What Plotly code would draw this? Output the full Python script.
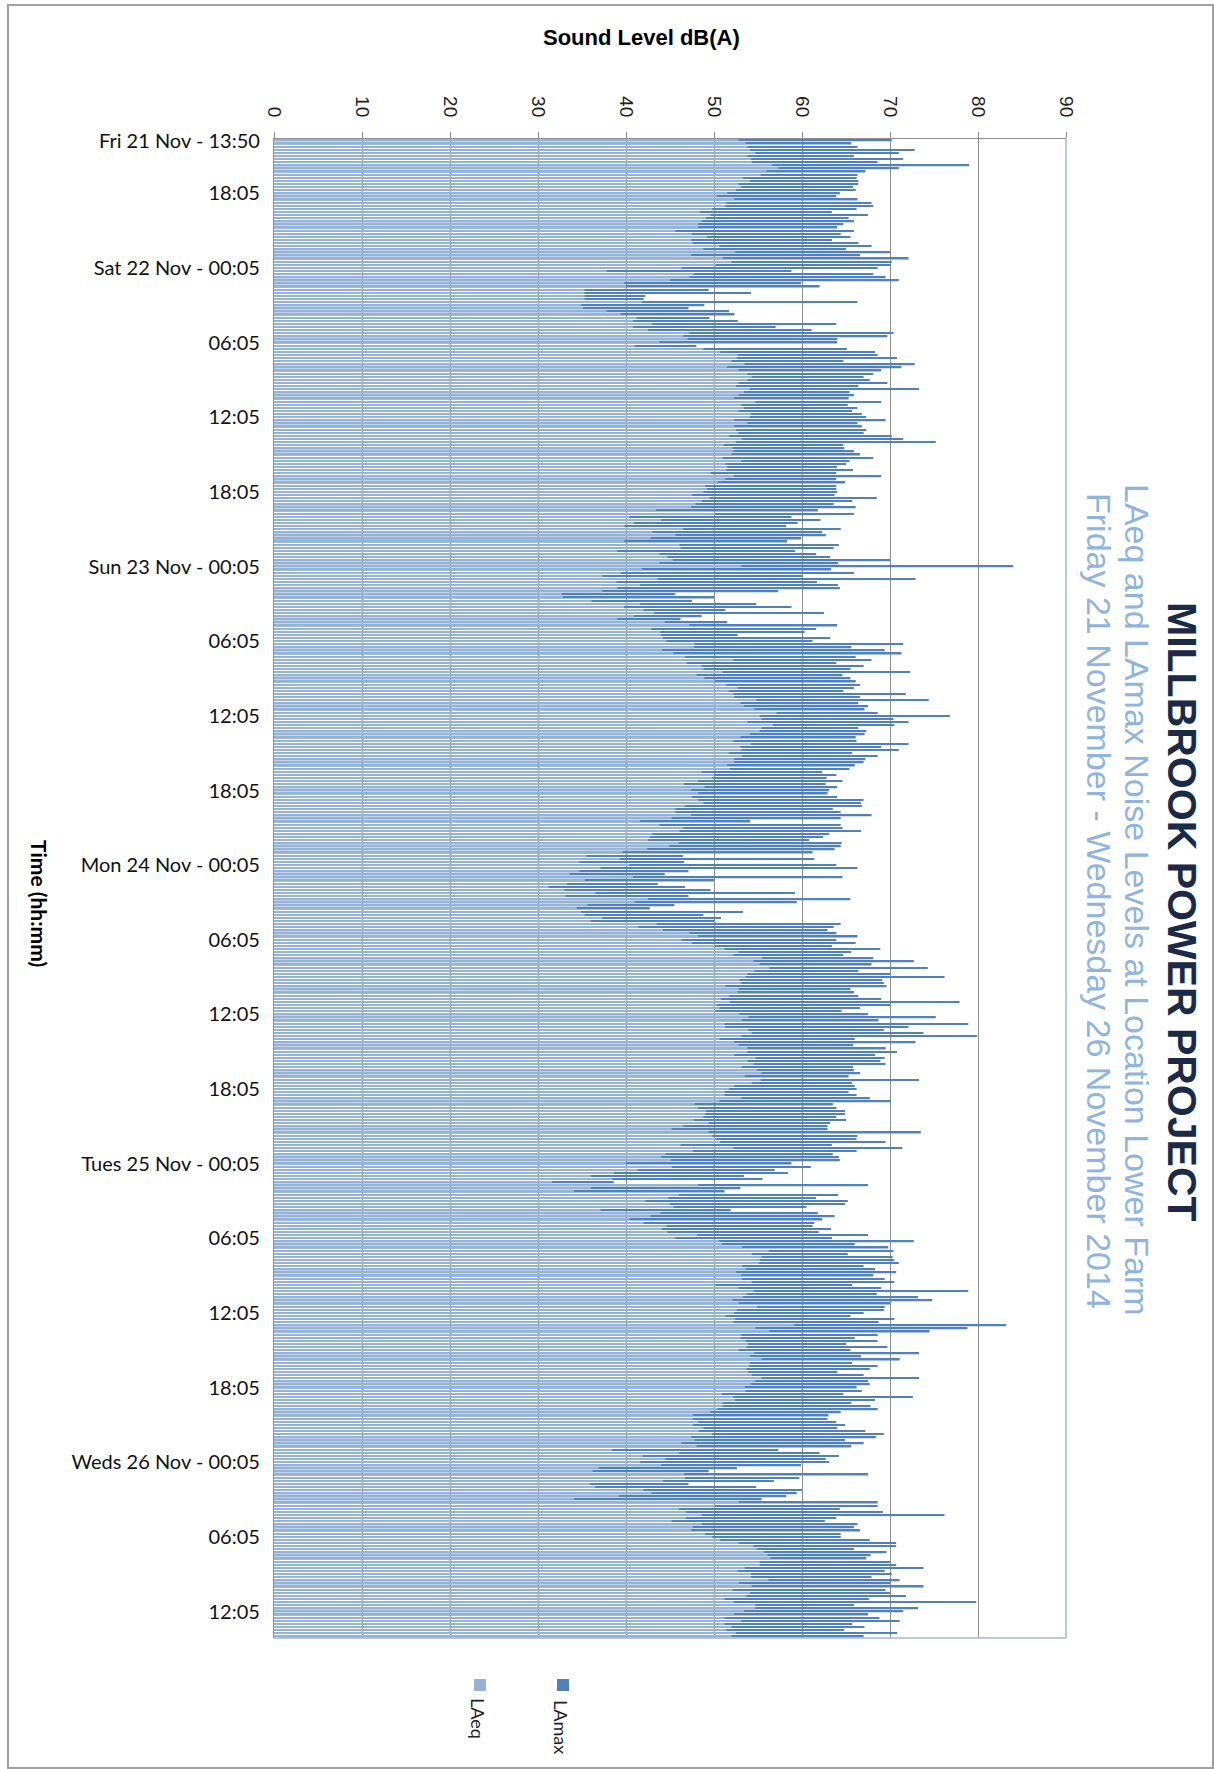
import pandas as pd
import plotly.graph_objects as go

# 15-minute noise monitoring record, Lower Farm, 21-26 November 2014
START = "2014-11-21 13:50"
INTERVAL = "15min"

LAEQ = [
    52.8, 53.6, 53.8, 54.1, 54.7, 53.8, 54.2, 54.3, 56.6, 57.3,
    56.0, 55.3, 53.3, 54.1, 52.8, 53.1, 52.5, 51.5, 50.3, 52.3,
    51.4, 51.3, 49.8, 48.4, 49.6, 49.1, 48.6, 48.2, 48.2, 45.6,
    47.5, 49.2, 47.4, 47.6, 50.6, 48.8, 52.4, 47.4, 51.0, 52.0,
    50.2, 46.3, 37.8, 47.7, 47.2, 45.0, 39.8, 40.0, 35.3, 35.3,
    35.3, 35.3, 41.8, 34.9, 35.1, 37.8, 39.4, 41.2, 40.8, 43.0,
    40.8, 42.5, 47.2, 46.5, 47.0, 43.8, 41.0, 48.8, 50.7, 52.7,
    52.6, 52.0, 53.5, 51.5, 52.8, 53.8, 54.3, 53.8, 52.8, 52.5,
    54.1, 53.4, 52.8, 52.3, 54.7, 53.1, 53.4, 52.8, 54.2, 54.1,
    52.3, 53.8, 52.3, 52.5, 52.8, 51.7, 53.2, 52.5, 51.1, 52.1,
    52.2, 52.0, 51.0, 53.1, 51.3, 51.5, 51.4, 49.6, 52.3, 51.3,
    50.4, 49.0, 49.2, 48.8, 47.5, 49.5, 48.6, 47.9, 47.4, 43.4,
    50.1, 40.4, 44.0, 40.9, 39.8, 46.5, 43.0, 45.6, 42.8, 39.8,
    46.1, 46.2, 39.0, 43.8, 44.7, 45.3, 43.8, 53.1, 41.8, 39.4,
    37.3, 43.6, 38.9, 41.6, 39.0, 37.3, 32.7, 32.8, 36.1, 41.6,
    39.8, 42.0, 43.2, 40.9, 39.0, 44.4, 47.2, 42.9, 43.9, 44.0, 44.2,
    44.6, 47.8, 47.7, 44.1, 45.4, 46.7, 52.2, 46.9, 48.6,
    48.8, 51.0, 48.0, 48.9, 50.1, 51.4, 52.7, 51.7, 52.2, 52.3,
    54.8, 53.0, 53.4, 54.6, 57.1, 55.2, 55.4, 53.8, 56.7, 55.4,
    55.2, 54.1, 53.0, 52.2, 54.2, 53.0, 53.1, 51.7, 53.2, 52.3,
    52.3, 51.5, 51.8, 48.6, 50.0, 49.8, 48.2, 46.6, 48.9, 47.4,
    48.2, 47.5, 48.2, 48.8, 46.7, 45.6, 45.6, 47.4, 45.2, 41.6,
    43.8, 46.5, 46.1, 43.0, 42.7, 42.5, 46.0, 44.9, 42.4, 39.6,
    35.5, 39.3, 34.7, 40.4, 37.1, 34.7, 33.6, 40.8, 35.3, 33.3, 31.2,
    33.0, 36.5, 33.1, 42.5, 41.0, 35.6, 34.4, 34.9, 35.3,
    37.3, 36.0, 43.5, 41.4, 44.2, 47.2, 48.2, 46.3, 47.5, 50.1,
    51.2, 52.8, 52.2, 55.5, 54.5, 55.2, 56.3, 54.6, 53.8, 53.6,
    52.9, 53.1, 51.3, 52.8, 52.7, 51.7, 50.8, 51.8, 50.3, 50.6,
    50.2, 52.9, 53.9, 53.2, 51.2, 51.3, 53.9, 54.3, 53.1, 50.6,
    52.3, 52.8, 53.8, 53.8, 52.3, 54.7, 53.8, 54.5, 53.2, 54.9,
    55.4, 53.5, 55.3, 54.3, 52.3, 51.7, 51.2, 51.2, 53.1, 50.6,
    47.8, 48.2, 49.1, 49.0, 48.8, 47.7, 49.4, 46.5, 45.2, 49.4, 49.8,
    50.2, 50.7, 46.2, 52.2, 47.6, 44.5, 44.0, 45.1, 40.0,
    45.2, 41.3, 38.6, 36.0, 38.4, 31.6, 48.2, 36.0, 34.1, 46.0,
    44.8, 42.2, 45.0, 45.4, 37.1, 43.9, 42.8, 40.4, 42.0, 44.6,
    44.1, 44.7, 48.1, 45.6, 50.6, 50.9, 53.2, 56.2, 54.3, 55.4,
    55.2, 55.1, 53.2, 53.6, 52.5, 53.1, 53.2, 54.3, 50.2, 52.8,
    54.5, 53.7, 53.3, 52.1, 52.8, 54.9, 52.6, 52.3, 51.3, 52.4,
    52.2, 59.1, 54.7, 56.3, 53.1, 53.0, 53.6, 53.9, 53.7, 52.8,
    54.6, 54.1, 55.4, 54.1, 54.0, 53.7, 53.9, 54.3, 55.4, 54.7, 54.2, 53.5,
    53.6, 50.9, 52.2, 52.4, 51.0, 51.0, 50.4, 49.6,
    47.6, 47.6, 48.2, 47.6, 48.8, 48.3, 49.8, 47.4, 47.8, 46.3,
    48.0, 38.4, 46.0, 41.9, 44.5, 41.6, 44.0, 36.9, 36.2, 46.6,
    46.7, 44.2, 35.9, 36.5, 42.0, 42.9, 39.2, 34.1, 52.8, 50.1,
    46.0, 46.8, 48.6, 46.8, 45.2, 48.6, 47.6, 47.4, 49.0, 49.8,
    50.7, 52.8, 54.5, 54.9, 55.7, 56.1, 56.4, 55.2, 55.2, 53.5,
    52.7, 54.2, 54.2, 56.2, 52.8, 54.3, 52.1, 54.1, 53.7, 51.2,
    52.2, 54.7, 54.7, 53.4, 52.3, 51.2, 53.1, 51.2, 52.0, 51.4, 52.5, 52.0,
]

LAMAX = [
    70.2, 65.6, 66.3, 72.8, 71.0, 65.9, 71.5, 68.6, 79.0, 71.0,
    67.2, 66.3, 66.2, 66.4, 66.4, 65.8, 66.1, 64.3, 63.9, 66.3,
    67.9, 68.1, 66.2, 63.4, 67.5, 65.3, 65.9, 64.7, 64.0, 65.9,
    64.4, 65.5, 63.4, 66.4, 67.9, 65.0, 70.0, 66.6, 72.1, 70.2,
    70.1, 68.6, 58.8, 68.1, 69.5, 71.0, 59.9, 62.0, 49.4, 54.2,
    42.2, 42.0, 66.3, 48.9, 47.1, 51.7, 52.3, 49.5, 52.7, 63.9,
    57.0, 61.1, 70.4, 69.7, 64.0, 64.0, 48.0, 65.1, 68.3, 68.6,
    70.8, 64.7, 72.8, 71.3, 69.0, 68.1, 67.0, 67.7, 69.7, 66.4,
    73.3, 65.4, 65.9, 65.3, 69.0, 65.2, 66.3, 65.7, 66.8, 67.3,
    69.5, 66.3, 66.8, 67.3, 67.0, 70.2, 71.5, 75.2, 64.7, 64.8,
    65.9, 66.6, 68.1, 65.4, 65.0, 64.0, 65.8, 63.9, 69.0, 63.9,
    64.9, 63.9, 63.9, 64.0, 63.7, 68.5, 65.7, 63.6, 66.1, 61.8,
    65.9, 58.8, 62.1, 59.5, 58.2, 64.4, 62.3, 62.7, 59.9, 58.3,
    64.2, 63.6, 59.2, 61.6, 63.2, 70.0, 64.1, 84.0, 63.3, 65.9,
    60.0, 72.9, 61.7, 64.1, 64.3, 57.3, 45.6, 50.0, 47.5, 54.8,
    58.8, 51.3, 62.5, 48.6, 46.2, 51.5, 64.0, 61.6, 60.3, 52.7, 63.2,
    61.2, 71.5, 65.6, 69.4, 71.3, 66.1, 67.9, 63.9, 67.0,
    65.5, 72.3, 64.6, 65.5, 66.1, 66.6, 65.9, 64.7, 71.8, 66.6,
    74.4, 66.4, 67.5, 67.1, 68.6, 76.8, 70.4, 72.1, 70.5, 66.4,
    67.3, 67.1, 66.1, 66.2, 72.1, 69.0, 71.0, 65.7, 68.6, 67.2,
    67.0, 66.0, 65.4, 62.3, 63.9, 62.8, 64.6, 62.7, 64.0, 63.1,
    62.9, 64.0, 67.0, 66.7, 66.8, 63.5, 64.4, 67.9, 64.4, 54.1,
    64.4, 64.6, 66.7, 63.1, 62.4, 60.8, 64.5, 64.4, 63.7, 61.2,
    46.5, 61.4, 46.6, 63.9, 66.3, 47.1, 44.4, 64.6, 50.0, 43.6, 46.7,
    49.6, 59.2, 47.1, 65.5, 59.4, 45.5, 42.7, 53.3, 48.8,
    50.8, 50.1, 64.4, 63.6, 62.9, 63.9, 66.3, 63.9, 66.1, 63.4,
    68.9, 65.6, 64.7, 68.1, 72.7, 67.9, 74.3, 66.4, 70.0, 76.2,
    69.1, 69.3, 69.6, 65.5, 65.9, 66.4, 69.0, 77.9, 70.0, 66.6,
    64.5, 67.5, 75.2, 68.7, 78.9, 72.1, 69.3, 73.8, 79.9, 66.0,
    72.9, 65.8, 69.5, 70.8, 68.3, 69.4, 68.9, 69.5, 65.8, 65.9,
    66.6, 65.3, 73.3, 65.7, 66.0, 66.2, 65.3, 66.2, 67.7, 70.1,
    63.5, 63.9, 64.9, 64.9, 63.9, 65.0, 63.2, 62.9, 62.9, 73.5, 66.3,
    66.2, 69.5, 63.4, 71.4, 66.2, 63.5, 64.2, 64.3, 58.8,
    61.0, 56.9, 58.4, 53.4, 55.5, 38.6, 67.5, 53.0, 51.2, 64.1,
    61.6, 65.2, 64.9, 60.5, 51.9, 61.8, 63.7, 62.3, 61.4, 61.2,
    63.3, 61.9, 67.5, 63.4, 72.7, 66.0, 69.8, 70.4, 65.2, 70.3,
    70.5, 71.0, 67.0, 68.3, 70.7, 68.1, 69.4, 70.5, 65.7, 69.0,
    78.9, 68.5, 73.2, 74.8, 70.0, 69.4, 69.3, 67.0, 65.5, 70.5,
    68.7, 83.2, 78.8, 74.5, 68.6, 66.0, 68.6, 65.0, 69.7, 65.5,
    73.3, 66.7, 71.1, 65.7, 68.6, 67.7, 64.0, 67.0, 73.3, 67.5, 67.7, 66.2,
    66.8, 64.7, 72.6, 68.3, 65.6, 67.8, 68.6, 64.4,
    63.0, 62.9, 63.9, 64.9, 64.0, 67.2, 69.3, 68.4, 64.9, 67.0,
    65.6, 57.3, 62.0, 64.2, 62.7, 63.1, 59.9, 52.6, 49.4, 67.5,
    59.7, 56.8, 47.1, 54.8, 60.0, 59.4, 58.2, 55.4, 68.6, 68.6,
    64.3, 69.2, 76.2, 63.9, 62.6, 66.3, 65.9, 66.6, 64.4, 64.4,
    67.7, 70.7, 70.7, 65.9, 69.6, 67.8, 67.3, 70.0, 70.7, 73.8,
    69.4, 70.2, 67.9, 71.1, 70.0, 73.8, 69.5, 70.0, 71.8, 67.6,
    79.8, 65.9, 73.2, 71.5, 67.5, 68.8, 71.1, 65.7, 67.1, 64.8, 70.8, 67.0,
]

TICK_TIMES = [
    "2014-11-21 13:50", "2014-11-21 18:05",
    "2014-11-22 00:05", "2014-11-22 06:05", "2014-11-22 12:05", "2014-11-22 18:05",
    "2014-11-23 00:05", "2014-11-23 06:05", "2014-11-23 12:05", "2014-11-23 18:05",
    "2014-11-24 00:05", "2014-11-24 06:05", "2014-11-24 12:05", "2014-11-24 18:05",
    "2014-11-25 00:05", "2014-11-25 06:05", "2014-11-25 12:05", "2014-11-25 18:05",
    "2014-11-26 00:05", "2014-11-26 06:05", "2014-11-26 12:05",
]
TICK_TEXT = [
    "Fri 21 Nov - 13:50", "18:05",
    "Sat 22 Nov - 00:05", "06:05", "12:05", "18:05",
    "Sun 23 Nov - 00:05", "06:05", "12:05", "18:05",
    "Mon 24 Nov - 00:05", "06:05", "12:05", "18:05",
    "Tues 25 Nov - 00:05", "06:05", "12:05", "18:05",
    "Weds 26 Nov - 00:05", "06:05", "12:05",
]
LEVEL_TICKS = [0, 10, 20, 30, 40, 50, 60, 70, 80, 90]

SERIES_NAMES = ["LAeq", "LAmax"]
COLOR_LAEQ = "#95B3D7"
COLOR_LAMAX = "#4F81BD"

times = pd.date_range(START, periods=len(LAEQ), freq=INTERVAL)
half_step = pd.Timedelta(INTERVAL) / 2

W, H = 1214, 1769
PLOT_L, PLOT_R, PLOT_T, PLOT_B = 274, 1066, 139, 1638


def px(x, y):
    """Pixel position on the page -> paper coordinates."""
    return (x - PLOT_L) / (PLOT_R - PLOT_L), (PLOT_B - y) / (PLOT_B - PLOT_T)


fig = go.Figure()
# LAmax drawn first so the LAeq bar sits in front of it
fig.add_trace(go.Bar(x=LAMAX, y=times, orientation="h", name=SERIES_NAMES[1],
                     marker=dict(color=COLOR_LAMAX, line=dict(width=0)),
                     showlegend=False))
fig.add_trace(go.Bar(x=LAEQ, y=times, orientation="h", name=SERIES_NAMES[0],
                     marker=dict(color=COLOR_LAEQ, line=dict(width=0)),
                     showlegend=False))

GRID = "#8F8F8F"
SANS = "Liberation Sans, Arial, sans-serif"
HUMAN = "Lato, Carlito, Calibri, sans-serif"

fig.update_layout(
    width=W, height=H,
    margin=dict(l=PLOT_L, r=W - PLOT_R, t=PLOT_T, b=H - PLOT_B, pad=0),
    paper_bgcolor="white", plot_bgcolor="white",
    barmode="overlay", bargap=0.52,
    xaxis=dict(
        side="top", range=[0, 90], tickvals=LEVEL_TICKS, tickangle=90,
        showgrid=True, gridcolor=GRID, gridwidth=1.3, zeroline=False,
        showline=True, linecolor=GRID, linewidth=1.3,
        ticks="outside", ticklen=6, tickcolor=GRID, tickwidth=1.3,
        ticklabelstandoff=8,
        tickfont=dict(family=SANS, size=19, color="#222222"),
    ),
    yaxis=dict(
        type="date",
        range=[times[-1] + half_step, times[0] - half_step],
        tickvals=TICK_TIMES, ticktext=TICK_TEXT,
        showgrid=False, zeroline=False,
        showline=True, linecolor=GRID, linewidth=1.3,
        ticks="", ticklabelstandoff=9,
        tickfont=dict(family=HUMAN, size=20, color="#111111"),
    ),
)

annotations = []


def note(text, x, y, size, family, color="#000000", angle=0, bold=False):
    ax, ay = px(x, y)
    annotations.append(dict(
        text=f"<b>{text}</b>" if bold else text, x=ax, y=ay,
        xref="paper", yref="paper", showarrow=False, textangle=angle,
        xanchor="center", yanchor="middle",
        font=dict(family=family, size=size, color=color)))


note("Sound Level dB(A)", 641, 38, 22, SANS, bold=True)
note("Time (hh:mm)", 40, 903, 21, HUMAN, angle=90, bold=True)
note("MILLBROOK POWER PROJECT", 1182, 912, 41, SANS, color="#1B2A47", angle=90, bold=True)
note("LAeq and LAmax Noise Levels at Location Lower Farm", 1137, 900, 34, SANS,
     color="#8DB4E2", angle=90)
note("Friday 21 November - Wednesday 26 November 2014", 1099, 901, 34, SANS,
     color="#8DB4E2", angle=90)

# legend: colour swatch with the series name rotated beneath it
legend_items = [(SERIES_NAMES[0], COLOR_LAEQ, 480, 1718), (SERIES_NAMES[1], COLOR_LAMAX, 563, 1727)]
shapes = []
for name, color, lx, ly in legend_items:
    x0, y0 = px(lx - 6, 1679)
    x1, y1 = px(lx + 6, 1691)
    shapes.append(dict(type="rect", xref="paper", yref="paper", x0=x0, x1=x1, y0=y1, y1=y0,
                       fillcolor=color, line=dict(width=0)))
    note(name, lx - 2, ly, 18, HUMAN, color="#222222", angle=90)

# plot-area border on the right and bottom
shapes.append(dict(type="line", xref="paper", yref="paper", x0=1, x1=1, y0=0, y1=1,
                   line=dict(color="#9FB6D4", width=1.5)))
shapes.append(dict(type="line", xref="paper", yref="paper", x0=0, x1=1, y0=0, y1=0,
                   line=dict(color="#9FB6D4", width=1.5)))
# outer chart frame
fx0, fy0 = px(8, 5)
fx1, fy1 = px(W - 1, H - 1)
shapes.append(dict(type="rect", xref="paper", yref="paper", x0=fx0, x1=fx1, y0=fy1, y1=fy0,
                   line=dict(color="#A0A0A0", width=2), fillcolor="rgba(0,0,0,0)"))

fig.update_layout(annotations=annotations, shapes=shapes)
fig.write_html("out.html")
